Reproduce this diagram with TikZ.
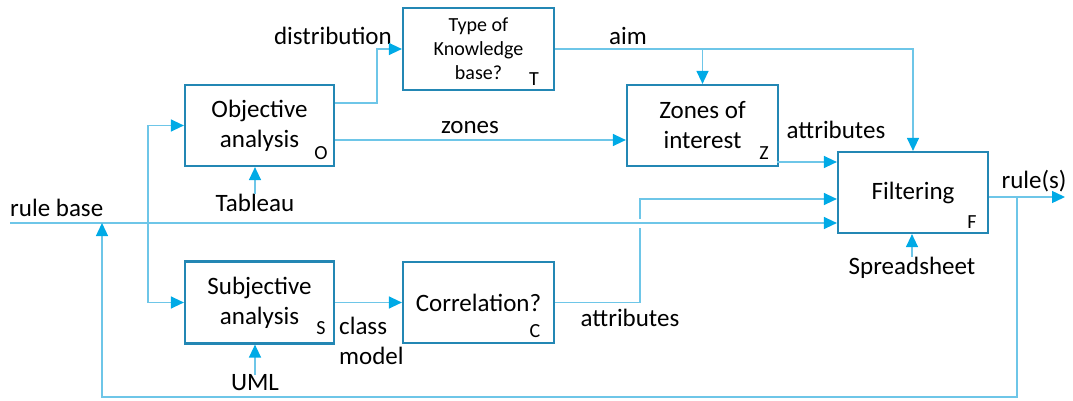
\documentclass[tikz,border=0pt]{standalone}
\usepackage{fontspec}
\setmainfont{Carlito}
\usetikzlibrary{arrows.meta,calc}
\definecolor{wirec}{RGB}{110,198,232}
\definecolor{boxc}{RGB}{35,135,180}
\definecolor{tipc}{RGB}{0,170,230}
\begin{document}
\begin{tikzpicture}[x=1pt,y=-1pt,
  wire/.style={draw=wirec,line width=1.3pt},
  arr/.style={wire,-{Triangle[length=13pt,width=12pt,color=tipc]}},
  blk/.style={draw=boxc,line width=2.2pt,fill=white,inner sep=0pt,align=center,
    font=\fontsize{25}{30}\selectfont},
  sml/.style={blk,font=\fontsize{20}{24}\selectfont},
  sub/.style={inner sep=0pt,font=\fontsize{20}{20}\selectfont},
  txt/.style={inner sep=0pt,font=\fontsize{25}{30}\selectfont}]
\useasboundingbox (0,0) rectangle (1073,401);
% boxes
\node[blk,minimum width=149pt,minimum height=81pt] (O) at (259.5,125.5) {Objective\\analysis};
\node[sml,minimum width=151pt,minimum height=82pt] (T) at (478.5,49) {Type of\\Knowledge\\base?};
\node[blk,minimum width=151pt,minimum height=81pt] (Z) at (702.5,125.5) {Zones of\\interest};
\node[blk,minimum width=150pt,minimum height=81pt] (F) at (913,192.5) {Filtering};
\node[blk,minimum width=149pt,minimum height=82pt] (S) at (259.5,302.5) {Subjective\\analysis};
\node[blk,minimum width=151pt,minimum height=81pt] (C) at (478.5,302.5) {Correlation?};
% subscripts
\node[sub] (Os) at (321,153) {O};
\node[sub] (Ts) at (534,79) {T};
\node[sub] (Zs) at (764,153) {Z};
\node[sub] (Fs) at (972,222) {F};
\node[sub] (Ss) at (321,328) {S};
\node[sub] (Cs) at (535,331) {C};
% labels
\node[txt,anchor=west] (lrb) at (10,208) {rule base};
\node[txt] (tab) at (255,203) {Tableau};
\node[txt] (uml) at (255,383) {UML};
\node[txt] (spr) at (912,268) {Spreadsheet};
\node[txt,anchor=east] (dist) at (392,36) {distribution};
\node[txt] (aim) at (628,36) {aim};
\node[txt] (zon) at (470,128) {zones};
\node[txt] (at1) at (836,130) {attributes};
\node[txt] (at2) at (630,318) {attributes};
\node[txt] (rls) at (1034,181) {rule(s)};
\node[txt,anchor=west] (cls) at (339,326) {class};
\node[txt,anchor=west] (mdl) at (339,356) {model};
% coordinates
\coordinate (rb) at (10,223);
\coordinate (fj) at (148,223);
\coordinate (dk) at (377,103);
\coordinate (zo) at (777,162);
\coordinate (oz) at (335,140);
\coordinate (cj) at (640,199);
\coordinate (ro) at (1065,197);
\coordinate (rs) at (1017,197);
\coordinate (bl) at (102,397);
% connectors
\draw[arr] (fj) |- (O.west);
\draw[arr] (fj) |- (S.west);
\draw[arr] (dk -| O.east) -- (dk) |- (T.west);
\draw[arr] (oz) -- (oz -| Z.west);
\draw[arr] (T.east) -| (F.north);
\draw[arr] (Z.north |- T.east) -- (Z.north);
\draw[arr] (zo) -- (zo -| F.west);
\draw[arr] (C.east) -| (cj) -- (cj -| F.west);
\draw[draw=white,line width=3pt] (640,218.5) -- (640,227.5);
\draw[arr] (rb) -- (rb -| F.west);
\draw[arr] (rs -| F.east) -- (ro);
\draw[arr] (rs) |- (bl) -- (bl |- rb);
\draw[arr] (S.east) -- (C.west);
\draw[arr] (tab.north) -- (tab.north |- O.south);
\draw[arr] (uml.north) -- (uml.north |- S.south);
\draw[arr] (spr.north) -- (spr.north |- F.south);
\end{tikzpicture}
\end{document}
